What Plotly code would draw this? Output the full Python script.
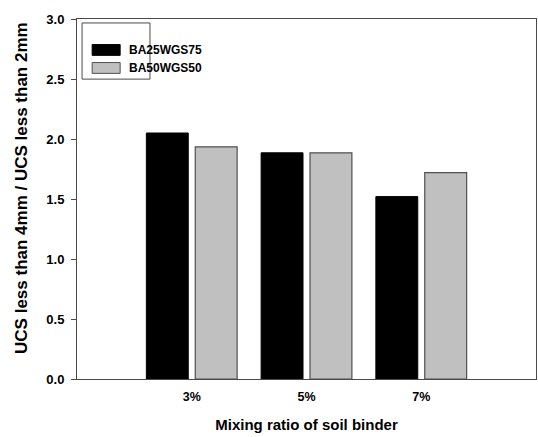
import plotly.graph_objects as go

# Mixing ratios and the strength ratio for each blend
categories = ["3%", "5%", "7%"]
ba25wgs75 = [2.05, 1.885, 1.52]
ba50wgs50 = [1.935, 1.885, 1.72]
y_ticks = [0.0, 0.5, 1.0, 1.5, 2.0, 2.5, 3.0]
series_names = ["BA25WGS75", "BA50WGS50"]

FONT = "Liberation Sans, Arial, sans-serif"
AXIS_COLOR = "#4a4a4a"

fig = go.Figure()
fig.add_trace(go.Bar(
    x=categories, y=ba25wgs75, name=series_names[0],
    marker=dict(color="black", line=dict(color="black", width=1)),
    showlegend=False,
))
fig.add_trace(go.Bar(
    x=categories, y=ba50wgs50, name=series_names[1],
    marker=dict(color="#c0c0c0", line=dict(color="#505050", width=1.2)),
    showlegend=False,
))

# Boxed legend drawn in the upper-left corner of the plot area
legend_box = dict(x0=0.011, x1=0.159, y0=0.833, y1=0.989)
fig.add_shape(type="rect", xref="paper", yref="paper", **legend_box,
              line=dict(color=AXIS_COLOR, width=1), fillcolor="white")
swatches = [("black", "black", 0.914), ("#c0c0c0", "#505050", 0.864)]
for (fill, edge, yc), label in zip(swatches, series_names):
    fig.add_shape(type="rect", xref="paper", yref="paper",
                  x0=0.033, x1=0.094, y0=yc - 0.015, y1=yc + 0.015,
                  fillcolor=fill, line=dict(color=edge, width=1))
    fig.add_annotation(text=label, xref="paper", yref="paper",
                       x=0.110, y=yc, xanchor="left", yanchor="middle",
                       showarrow=False,
                       font=dict(family=FONT, size=12, color="black", weight="bold"))

# Vertical axis title
fig.add_annotation(text="UCS less than 4mm / UCS less than 2mm",
                   xref="paper", yref="paper", x=-0.121, y=0.532,
                   textangle=-90, showarrow=False,
                   xanchor="center", yanchor="middle",
                   font=dict(family=FONT, size=17, color="black", weight="bold"))

fig.update_layout(
    width=538, height=437,
    margin=dict(l=77, r=2, t=19, b=58),
    paper_bgcolor="white", plot_bgcolor="white",
    barmode="group", bargap=0.148, bargroupgap=0.143,
    font=dict(family=FONT, color="black"),
    xaxis=dict(
        range=[-1, 3], showgrid=False, zeroline=False,
        showline=True, linecolor=AXIS_COLOR, linewidth=1, mirror=True,
        ticks="", ticklabelstandoff=6,
        tickfont=dict(family=FONT, size=12.5, color="black", weight="bold"),
        title=dict(text="Mixing ratio of soil binder", standoff=16,
                   font=dict(family=FONT, size=15, color="black", weight="bold")),
    ),
    yaxis=dict(
        range=[0, 3], tickvals=y_ticks, ticktext=[f"{v:.1f}" for v in y_ticks],
        showgrid=False, zeroline=False,
        showline=True, linecolor=AXIS_COLOR, linewidth=1, mirror=True,
        ticks="outside", ticklen=5, tickcolor=AXIS_COLOR, ticklabelstandoff=4,
        tickfont=dict(family=FONT, size=13, color="black", weight="bold"),
    ),
)

fig.write_html("out.html")
